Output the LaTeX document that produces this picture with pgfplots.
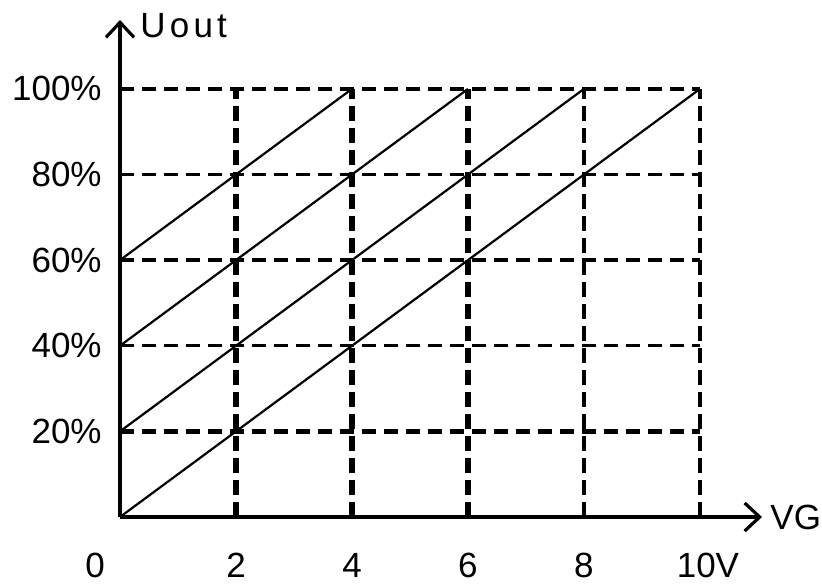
\documentclass[border=0pt]{standalone}
\usepackage{fontspec}
\setmainfont{Liberation Sans}
\usepackage{pgfplots}
\pgfplotsset{compat=1.18}
\usetikzlibrary{arrows.meta}

\begin{document}
\begin{tikzpicture}
\useasboundingbox (-60pt,-35pt) rectangle (351pt,258.5pt);
\begin{axis}[
    scale only axis,
    width=321pt, height=248.5pt,
    xmin=0, xmax=11.07,
    ymin=0, ymax=116.1,
    axis lines=left,
    axis line style={line width=1.6pt, -{Straight Barb[length=7.5pt,width=14pt,line width=1.6pt]}},
    major tick length=0pt,
    xtick={2,4,6,8,10},
    xticklabels={2,4,6,8,\hspace{8pt}10V},
    ytick={20,40,60,80,100},
    yticklabels={20\%,40\%,60\%,80\%,100\%},
    /pgf/number format/assume math mode=true,
    tick label style={font=\fontsize{17.5}{20}\selectfont},
    xticklabel style={anchor=base, inner sep=0pt, yshift=-30pt},
    yticklabel style={anchor=east, inner sep=0pt, xshift=-9pt},
    extra x ticks={0},
    extra x tick labels={0},
    extra x tick style={xticklabel style={xshift=-12.5pt}},
    clip=false,
]
% dashed grid
\foreach \y/\w in {20/2.4pt,40/1.7pt,60/1.7pt,80/1.7pt,100/1.7pt}{
  \edef\tmp{\noexpand\draw[line width=\w, dash pattern=on 7pt off 4pt] (axis cs:0,\y) -- (axis cs:10,\y);}\tmp
}
\foreach \x/\w in {2/2.6pt,4/2.6pt,6/2.6pt,8/1.8pt,10/1.8pt}{
  \edef\tmp{\noexpand\draw[line width=\w, dash pattern=on 7.5pt off 3.5pt] (axis cs:\x,0) -- (axis cs:\x,100);}\tmp
}
\addplot[black, line width=1.1pt] coordinates {(0,0) (10,100)};
\addplot[black, line width=1.1pt] coordinates {(0,20) (8,100)};
\addplot[black, line width=1.1pt] coordinates {(0,40) (6,100)};
\addplot[black, line width=1.1pt] coordinates {(0,60) (4,100)};
\node[anchor=west, inner sep=0pt, font=\fontsize{17.5}{20}\selectfont] at (axis cs:11.07,0) {\hspace{4pt}VG};
\node[anchor=base west, inner sep=0pt, font=\fontsize{17.5}{20}\selectfont\addfontfeatures{LetterSpace=12}] at (axis cs:0,112.1) {\hspace{10pt}Uout};
\end{axis}
\end{tikzpicture}
\end{document}
